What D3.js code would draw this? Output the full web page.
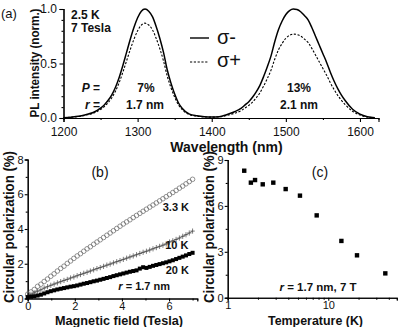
<!DOCTYPE html>
<html><head><meta charset="utf-8">
<script src="https://cdn.jsdelivr.net/npm/d3@7"></script>
<style>
body{margin:0;background:#fff}
text{font-family:"Liberation Sans",Arial,sans-serif;fill:#111}
.axis path,.axis line{stroke:#000;stroke-width:1.1}
</style></head><body>
<svg id="c" width="399" height="327"></svg>
<script>
// ---------- Panel (a) data ----------
const wavelength = [1200,1210,1220,1230,1240,1250,1255,1260,1265,1270,1275,1280,1285,1290,1295,1300,1305,1310,1315,1320,1325,1330,1335,1340,1345,1350,1355,1360,1370,1380,1390,1400,1410,1420,1430,1440,1445,1450,1455,1460,1465,1470,1475,1480,1485,1490,1495,1500,1505,1510,1515,1520,1525,1530,1535,1540,1545,1550,1555,1560,1565,1570,1575,1580,1590,1600,1610,1620];
const sigmaMinus = [0.003,0.008,0.015,0.03,0.05,0.09,0.12,0.16,0.21,0.28,0.37,0.48,0.60,0.72,0.83,0.92,0.98,1.0,0.98,0.93,0.84,0.73,0.60,0.44,0.32,0.22,0.14,0.09,0.035,0.02,0.012,0.01,0.012,0.03,0.055,0.09,0.12,0.15,0.19,0.24,0.30,0.38,0.47,0.57,0.70,0.81,0.89,0.95,0.985,1.0,0.995,0.975,0.94,0.90,0.83,0.75,0.67,0.59,0.51,0.42,0.34,0.27,0.21,0.16,0.08,0.035,0.012,0.003];
const sigmaPlus = [0.003,0.007,0.013,0.026,0.043,0.078,0.104,0.139,0.183,0.244,0.322,0.418,0.522,0.626,0.722,0.80,0.853,0.87,0.853,0.81,0.731,0.635,0.522,0.383,0.278,0.191,0.122,0.078,0.03,0.017,0.01,0.008,0.01,0.023,0.042,0.069,0.092,0.116,0.146,0.185,0.231,0.293,0.362,0.439,0.539,0.624,0.685,0.732,0.758,0.77,0.766,0.751,0.724,0.693,0.639,0.578,0.516,0.454,0.393,0.323,0.262,0.208,0.162,0.123,0.062,0.027,0.009,0.002];
const aXTicks = [1200,1300,1400,1500,1600];
const aYTicks = [0,0.5,1.0];
const seriesNames = ["σ-","σ+"];

// ---------- Panel (b) data ----------
const field = [0,0.14,0.28,0.42,0.56,0.70,0.84,0.98,1.12,1.26,1.40,1.54,1.68,1.82,1.96,2.10,2.24,2.38,2.52,2.66,2.80,2.94,3.08,3.22,3.36,3.50,3.64,3.78,3.92,4.06,4.20,4.34,4.48,4.62,4.76,4.90,5.04,5.18,5.32,5.46,5.60,5.74,5.88,6.02,6.16,6.30,6.44,6.58,6.72,6.86,7.00];
const pol33K = [0.25,0.38,0.52,0.70,0.82,0.98,1.12,1.28,1.42,1.58,1.73,1.86,2.02,2.16,2.31,2.45,2.58,2.72,2.86,2.98,3.12,3.25,3.38,3.51,3.64,3.77,3.90,4.03,4.16,4.29,4.41,4.53,4.66,4.78,4.90,5.02,5.14,5.26,5.38,5.50,5.62,5.74,5.86,5.98,6.10,6.22,6.35,6.47,6.60,6.73,6.86];
const pol10K = [0.15,0.24,0.32,0.42,0.50,0.60,0.68,0.76,0.83,0.90,0.97,1.04,1.10,1.18,1.24,1.31,1.38,1.45,1.51,1.58,1.65,1.72,1.78,1.85,1.92,1.98,2.05,2.12,2.18,2.25,2.32,2.39,2.45,2.52,2.59,2.66,2.72,2.79,2.86,2.93,3.00,3.07,3.14,3.25,3.32,3.40,3.48,3.58,3.67,3.77,3.88];
const pol20K = [0.08,0.10,0.13,0.17,0.22,0.29,0.36,0.42,0.47,0.52,0.56,0.60,0.64,0.68,0.71,0.75,0.80,0.85,0.89,0.94,0.99,1.03,1.08,1.13,1.18,1.23,1.29,1.34,1.39,1.44,1.49,1.54,1.58,1.62,1.72,1.80,1.76,1.82,1.88,1.93,1.98,2.03,2.08,2.14,2.20,2.27,2.34,2.41,2.48,2.56,2.63];
const bXTicks = [0,2,4,6];
const bYTicks = [0,2,4,6,8];
const bLabels = ["3.3 K","10 K","20 K"];

// ---------- Panel (c) data ----------
const temperature = [1.46,1.70,1.87,2.23,2.84,3.77,5.23,7.67,13.5,19.3,36.9];
const polT = [8.30,7.52,7.69,7.41,7.52,7.10,6.67,5.38,3.71,2.77,1.59];
const cXTicks = [1,10];
const cYTicks = [0,3,6,9];

const svg = d3.select("#c");

function axes(g, xs, ys, xt, xminor, yt, yminor, xfmt, yfmt, fs, xy, yx, major, pad) {
  const gx = g.append("g").attr("class","axis").attr("transform",`translate(0,${xy})`);
  gx.call(d3.axisBottom(xs).tickValues(xminor).tickSize(2).tickFormat(""));
  const gx2 = g.append("g").attr("class","axis").attr("transform",`translate(0,${xy})`);
  gx2.call(d3.axisBottom(xs).tickValues(xt).tickSize(major).tickPadding(pad[0]).tickFormat(xfmt));
  const gy = g.append("g").attr("class","axis").attr("transform",`translate(${yx},0)`);
  gy.call(d3.axisLeft(ys).tickValues(yminor).tickSize(2).tickFormat(""));
  const gy2 = g.append("g").attr("class","axis").attr("transform",`translate(${yx},0)`);
  gy2.call(d3.axisLeft(ys).tickValues(yt).tickSize(major).tickPadding(pad[1]).tickFormat(yfmt));
  g.selectAll(".axis text").attr("font-size",fs).attr("font-family","'Liberation Sans',Arial,sans-serif").attr("fill","#222");
}

// ======== Panel (a) ========
{
  const g = svg.append("g");
  const x = d3.scaleLinear().domain([1200,1625]).range([63.5,378.5]);
  const y = d3.scaleLinear().domain([0,1]).range([118,9]);
  const xminor = [1250,1350,1450,1550];
  const yminor = [0.1,0.2,0.3,0.4,0.6,0.7,0.8,0.9];
  axes(g,x,y,aXTicks,xminor,aYTicks,yminor,d3.format("d"),d3.format(".1f"),12,118,63.5,4,[5,2.5]);
  const line = (vals)=>d3.line().x((d,i)=>x(wavelength[i])).y(d=>y(d)).curve(d3.curveMonotoneX)(vals);
  g.append("path").attr("d",line(sigmaPlus)).attr("fill","none").attr("stroke","#000").attr("stroke-width",1.1).attr("stroke-dasharray","2.2,1.6");
  g.append("path").attr("d",line(sigmaMinus)).attr("fill","none").attr("stroke","#000").attr("stroke-width",1.5);
  // legend
  g.append("line").attr("x1",190).attr("x2",209).attr("y1",38).attr("y2",38).attr("stroke","#000").attr("stroke-width",1.4);
  g.append("line").attr("x1",190).attr("x2",209).attr("y1",62).attr("y2",62).attr("stroke","#000").attr("stroke-width",1.1).attr("stroke-dasharray","2.2,1.6");
  g.append("text").attr("x",217).attr("y",43.5).attr("font-size",20).text(seriesNames[0]);
  g.append("text").attr("x",217).attr("y",67).attr("font-size",20).text(seriesNames[1]);
  // annotations
  const b = (t,xx,yy,anchor,fs)=>g.append("text").attr("x",xx).attr("y",yy).attr("font-size",fs||12).attr("font-weight","bold").attr("text-anchor",anchor||"start").text(t);
  b("2.5 K",71,18.5); b("7 Tesla",71,31.5);
  g.append("text").attr("x",100).attr("y",91.7).attr("font-size",12).attr("font-weight","bold").attr("text-anchor","end")
    .html('<tspan font-style="italic">P</tspan> =');
  g.append("text").attr("x",100).attr("y",108.5).attr("font-size",12).attr("font-weight","bold").attr("text-anchor","end")
    .html('<tspan font-style="italic">r</tspan> =');
  b("7%",146,91.7,"middle"); b("1.7 nm",145,108.5,"middle");
  b("13%",299,91.7,"middle"); b("2.1 nm",299,108.5,"middle");
  g.append("text").attr("x",1).attr("y",17.5).attr("font-size",13).text("(a)");
  g.append("text").attr("x",226.5).attr("y",152).attr("font-size",14).attr("font-weight","bold").attr("text-anchor","middle").text("Wavelength (nm)");
  g.append("text").attr("transform","translate(38.5,63) rotate(-90)").attr("font-size",12.5).attr("font-weight","bold").attr("text-anchor","middle")
    .attr("textLength",109).attr("lengthAdjust","spacingAndGlyphs").text("PL intensity (norm.)");
}

// ======== Panel (b) ========
{
  const g = svg.append("g");
  const x = d3.scaleLinear().domain([0,7.2]).range([27.7,197.3]);
  const y = d3.scaleLinear().domain([0,8]).range([298.5,159.5]);
  axes(g,x,y,bXTicks,[1,3,5,7],bYTicks,[1,3,5,7],d3.format("d"),d3.format("d"),11,298.5,27.7,3,[0.8,1]);
  // 3.3 K open circles
  g.append("g").selectAll("circle").data(pol33K).join("circle")
    .attr("cx",(d,i)=>x(field[i])).attr("cy",d=>y(d)).attr("r",2.3)
    .attr("fill","none").attr("stroke","#666").attr("stroke-width",0.7);
  // 10 K plus markers
  g.append("path").attr("d",d3.line().x((d,i)=>x(field[i])).y(d=>y(d))(pol10K)).attr("fill","none").attr("stroke","#555").attr("stroke-width",0.7);
  g.append("g").selectAll("path").data(pol10K).join("path")
    .attr("d",(d,i)=>{const cx=x(field[i]),cy=y(d);return `M${cx},${cy-2.6}L${cx},${cy+2.6}M${cx-2.2},${cy}L${cx+2.2},${cy}`;})
    .attr("stroke","#444").attr("stroke-width",0.7).attr("fill","none");
  // 20 K filled squares
  g.append("g").selectAll("rect").data(pol20K).join("rect")
    .attr("x",(d,i)=>x(field[i])-2).attr("y",d=>y(d)-2).attr("width",4).attr("height",4).attr("fill","#000");
  const b = (t,xx,yy,anchor)=>g.append("text").attr("x",xx).attr("y",yy).attr("font-size",11).attr("font-weight","bold").attr("text-anchor",anchor||"end").text(t);
  b(bLabels[0],189,210.5); b(bLabels[1],188.5,248.5); b(bLabels[2],189,273.5);
  g.append("text").attr("x",170).attr("y",290).attr("font-size",11).attr("font-weight","bold").attr("text-anchor","end")
    .html('<tspan font-style="italic">r</tspan> = 1.7 nm');
  g.append("text").attr("x",100).attr("y",177).attr("font-size",14).attr("text-anchor","middle").text("(b)");
  g.append("text").attr("x",119).attr("y",325).attr("font-size",13).attr("font-weight","bold").attr("text-anchor","middle")
    .attr("textLength",128).attr("lengthAdjust","spacingAndGlyphs").text("Magnetic field (Tesla)");
  g.append("text").attr("transform","translate(14,227) rotate(-90)").attr("font-size",14).attr("font-weight","bold").attr("text-anchor","middle")
    .attr("textLength",152).attr("lengthAdjust","spacingAndGlyphs").text("Circular polarization (%)");
}

// ======== Panel (c) ========
{
  const g = svg.append("g");
  const x = d3.scaleLog().domain([1,48]).range([227.7,396.8]);
  const y = d3.scaleLinear().domain([0,9]).range([297.7,160]);
  axes(g,x,y,cXTicks,[2,3,4,5,6,7,8,9,20,30,40],cYTicks,[1.5,4.5,7.5],d3.format("d"),d3.format("d"),11,297.7,227.7,3,[0.8,1]);
  g.append("g").selectAll("rect").data(polT).join("rect")
    .attr("x",(d,i)=>x(temperature[i])-2.2).attr("y",d=>y(d)-2.2).attr("width",4.4).attr("height",4.4).attr("fill","#000");
  g.append("text").attr("x",318).attr("y",291).attr("font-size",11.5).attr("font-weight","bold").attr("text-anchor","middle")
    .html('<tspan font-style="italic">r</tspan> = 1.7 nm, 7 T');
  g.append("text").attr("x",320).attr("y",176.5).attr("font-size",14).attr("text-anchor","middle").text("(c)");
  g.append("text").attr("x",315.5).attr("y",325).attr("font-size",13).attr("font-weight","bold").attr("text-anchor","middle")
    .attr("textLength",95).attr("lengthAdjust","spacingAndGlyphs").text("Temperature (K)");
  g.append("text").attr("transform","translate(214,227) rotate(-90)").attr("font-size",14).attr("font-weight","bold").attr("text-anchor","middle")
    .attr("textLength",152).attr("lengthAdjust","spacingAndGlyphs").text("Circular polarization (%)");
}
</script>
</body></html>
